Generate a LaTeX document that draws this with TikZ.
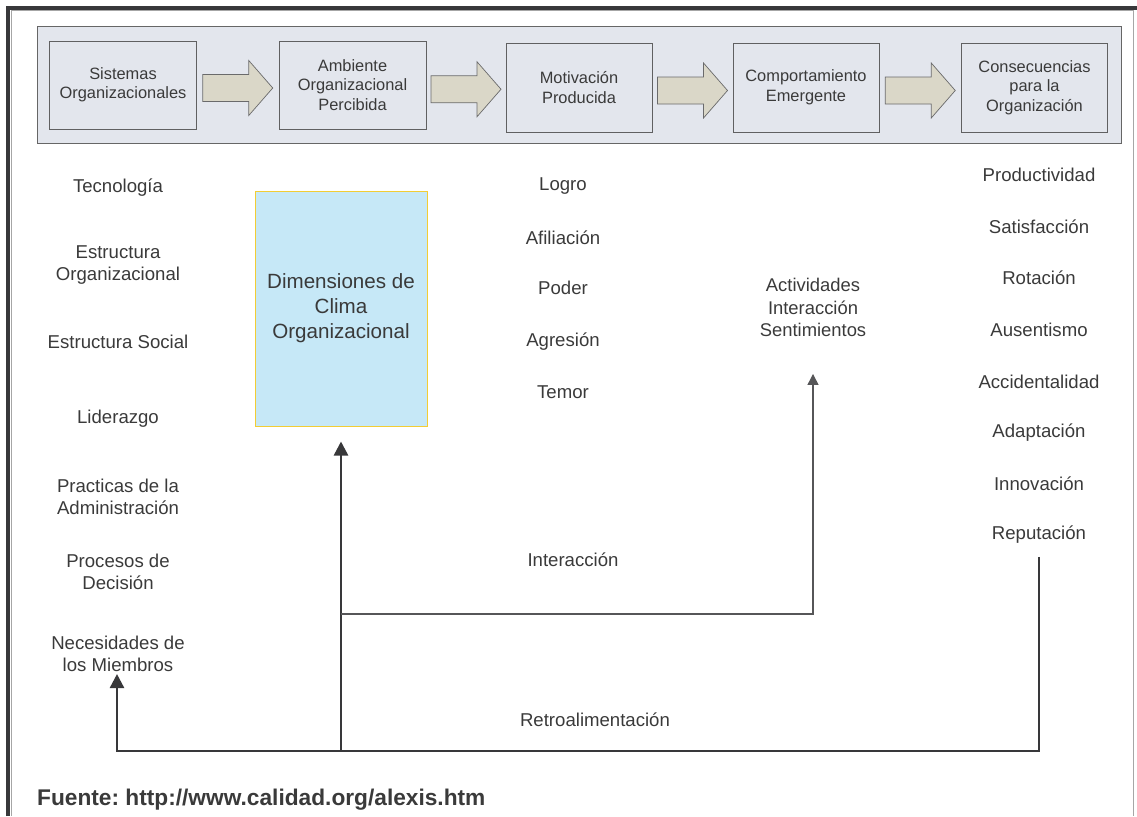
\documentclass[tikz,border=0pt]{standalone}
\usepackage{fontspec}
\setmainfont{Liberation Sans}
\usetikzlibrary{arrows.meta,calc}
\definecolor{texto}{HTML}{3A3A3A}
\definecolor{banda}{HTML}{E3E6ED}
\definecolor{flecha}{HTML}{DAD7C8}
\definecolor{clima}{HTML}{C6E8F7}
\definecolor{oro}{HTML}{F2CD35}
\definecolor{linea}{HTML}{38383A}
\frenchspacing
\tikzset{
  caja/.style={draw=linea!80, fill=banda, line width=0.8pt, minimum width=147pt, minimum height=88pt,
    align=center, text=texto, inner sep=0pt, font=\fontsize{16.4}{19.5}\selectfont},
  lista/.style={align=center, text=texto, inner sep=0pt, font=\fontsize{18.6}{22}\selectfont},
  grueso/.style={draw=linea, line width=2.5pt},
  delgado/.style={draw=linea!85, line width=1.3pt},
  punta/.style={-{Triangle[length=14pt,width=14pt]}},
  puntachica/.style={-{Triangle[length=11pt,width=11pt]}}
}
\begin{document}
\begin{tikzpicture}[x=1pt,y=-1pt]
\useasboundingbox (0,0) rectangle (1137,816);
% marco
\draw[gray!70, line width=1pt] (11,816) -- (11,11) -- (1133,11) -- (1133,816);
\draw[linea, line width=4pt] (8,816) -- (8,8) -- (1137,8);
% banda superior
\filldraw[fill=banda, draw=gray!80!black, line width=0.8pt] (37,26) rectangle (1121,143);
\node[caja] (sis) at (123,85) {Sistemas\\Organizacionales};
\node[caja] (amb) at (352.5,85) {Ambiente\\Organizacional\\Percibida};
\node[caja, minimum width=146pt, minimum height=89pt] (mot) at (579,87.5) {Motivación\\Producida};
\node[caja, minimum width=146pt, minimum height=89pt] (com) at (806,87.5) {Comportamiento\\Emergente};
\node[caja, minimum width=146pt, minimum height=89pt] (con) at (1034.5,87.5) {Consecuencias\\para la\\Organización};
\foreach \a/\b in {sis/amb,amb/mot,mot/com,com/con}{
  \coordinate (m) at ($(\a.east)!0.5!(\b.west)+(0,3)$);
  \filldraw[fill=flecha, draw=linea!75, line width=0.7pt] ($(m)+(-35,-13.5)$) -- ($(m)+(11,-13.5)$)
    -- ($(m)+(11,-27.5)$) -- ($(m)+(35,0)$) -- ($(m)+(11,27.5)$) -- ($(m)+(11,13.5)$)
    -- ($(m)+(-35,13.5)$) -- cycle;
}
% columna izquierda
\node[lista] (tec) at (118,188) {Tecnología};
\node[lista] (eo) at (118,265) {Estructura\\Organizacional};
\node[lista] (es) at (118,342) {Estructura Social};
\node[lista] (lid) at (118,419) {Liderazgo};
\node[lista] (pra) at (118,496.5) {Practicas de la\\Administración};
\node[lista] (pro) at (118,572) {Procesos de\\Decisión};
\node[lista] (nec) at (118,654) {Necesidades de\\los Miembros};
% clima
\node[draw=oro, fill=clima, line width=1pt, minimum width=172pt, minimum height=235pt, inner sep=0pt,
  align=center, text=texto, font=\fontsize{20.6}{25}\selectfont] (dim) at (341,308.5)
  {Dimensiones de\\Clima\\Organizacional};
% motivacion
\node[lista] (log) at (563,186) {Logro};
\node[lista] (afi) at (563,238) {Afiliación};
\node[lista] (pod) at (563,288) {Poder};
\node[lista] (agr) at (563,342) {Agresión};
\node[lista] (tem) at (563,392) {Temor};
\node[lista] (int) at (573,560) {Interacción};
\node[lista, font=\fontsize{18.4}{22.5}\selectfont] (act) at (813,307.5) {Actividades\\Interacción\\Sentimientos};
% consecuencias
\node[lista] (pdv) at (1039,175) {Productividad};
\node[lista] (sat) at (1039,227) {Satisfacción};
\node[lista] (rot) at (1039,278) {Rotación};
\node[lista] (aus) at (1039,330) {Ausentismo};
\node[lista] (acc) at (1039,382) {Accidentalidad};
\node[lista] (ada) at (1039,433) {Adaptación};
\node[lista] (inn) at (1039,484) {Innovación};
\node[lista] (rep) at (1039,535) {Reputación};
\node[lista] (ret) at (595,720) {Retroalimentación};
% conectores
\coordinate (fbL) at (117,751);
\coordinate (fbM) at (341,751);
\coordinate (jn) at (341,614);
\draw[grueso, punta] ($(rep.south)+(0,13)$) |- (fbL) -- ($(fbL |- nec.south)+(0,2)$);
\draw[grueso, punta] (fbM) -- ($(dim.south)+(0,15)$);
\draw[delgado, puntachica] (jn) -| ($(act.south)+(0,37)$);
\node[anchor=west, inner sep=0pt, text=texto, font=\fontsize{22.7}{26}\selectfont\bfseries] (fte) at (37,800)
  {Fuente: http://www.calidad.org/alexis.htm};
\end{tikzpicture}
\end{document}
